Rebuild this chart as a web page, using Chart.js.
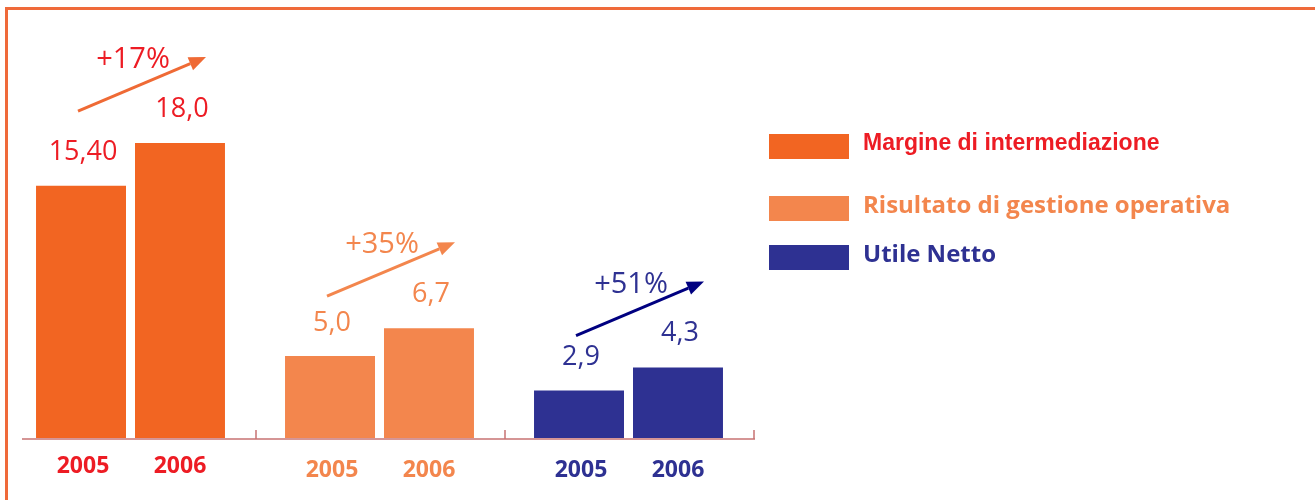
<!DOCTYPE html>
<html>
<head>
<meta charset="utf-8">
<script src="https://cdn.jsdelivr.net/npm/chart.js@4.4.1/dist/chart.umd.min.js"></script>
<style>
  body { margin: 0; background: #fff; }
  #wrap { position: relative; width: 1315px; height: 500px; overflow: hidden; }
  #frame { position: absolute; left: 5px; top: 7px; right: -10px; bottom: -10px;
           border-top: 3px solid #EF6A3A; border-left: 3px solid #EF6A3A; }
  canvas { position: absolute; left: 0; top: 0; }
</style>
</head>
<body>
<div id="wrap">
  <div id="frame"></div>
  <canvas id="chart-bars" width="1315" height="500"></canvas>
</div>
<script>
// data
var groups = ["Margine di intermediazione", "Risultato di gestione operativa", "Utile Netto"];
var years = ["2005", "2006"];
var values2005 = [15.40, 5.0, 2.9];
var values2006 = [18.0, 6.7, 4.3];
var valueLabels2005 = ["15,40", "5,0", "2,9"];
var valueLabels2006 = ["18,0", "6,7", "4,3"];
var growthLabels = ["+17%", "+35%", "+51%"];

var barColors = ["#F26522", "#F3864D", "#2E3192"];
var textColors = ["#ED1C24", "#F3864D", "#2E3192"];
var arrowColors = ["#EF6A35", "#F3864D", "#000080"];

var ctx = document.getElementById("chart-bars").getContext("2d");

function drawArrow(c, x1, y1, x2, y2, color) {
  var ang = Math.atan2(y2 - y1, x2 - x1);
  var head = 17, half = 7;
  var bx = x2 - head * Math.cos(ang), by = y2 - head * Math.sin(ang);
  c.strokeStyle = color;
  c.fillStyle = color;
  c.lineWidth = 3;
  c.beginPath();
  c.moveTo(x1, y1);
  c.lineTo(bx, by);
  c.stroke();
  c.beginPath();
  c.moveTo(x2, y2);
  c.lineTo(bx - half * Math.sin(ang), by + half * Math.cos(ang));
  c.lineTo(bx + half * Math.sin(ang), by - half * Math.cos(ang));
  c.closePath();
  c.fill();
}

var extras = {
  id: "extras",
  afterDatasetsDraw: function (chart) {
    var c = chart.ctx;
    var area = chart.chartArea;
    var xs = chart.scales.x;
    var step = (area.right - area.left) / groups.length;
    var m0 = chart.getDatasetMeta(0).data;
    var m1 = chart.getDatasetMeta(1).data;
    c.save();

    // axis line with small upward ticks between groups
    c.strokeStyle = "#C87373";
    c.lineWidth = 1.5;
    c.beginPath();
    c.moveTo(area.left + 16, area.bottom + 1);
    c.lineTo(area.right + 2, area.bottom + 1);
    for (var i = 0; i < groups.length; i++) {
      var tx = xs.getPixelForValue(i) + step / 2 + 1;
      c.moveTo(tx, area.bottom + 1);
      c.lineTo(tx, area.bottom - 8);
    }
    c.stroke();

    var yearOffset = [0, 4, 4];
    for (var g = 0; g < groups.length; g++) {
      var b0 = m0[g], b1 = m1[g];
      c.fillStyle = textColors[g];
      c.textAlign = "center";
      c.textBaseline = "middle";

      // values above bars
      c.font = '27px "Open Sans"';
      c.fillText(valueLabels2005[g], b0.x + 2, b0.y - 33);
      c.fillText(valueLabels2006[g], b1.x + 2, b1.y - 34);

      // years under bars
      c.font = 'bold 23px "Open Sans"';
      c.fillText(years[0], b0.x + 2, area.bottom + 28 + yearOffset[g]);
      c.fillText(years[1], b1.x, area.bottom + 28 + yearOffset[g]);

      // growth arrow + label
      var ex = b1.x + 26, ey = b1.y - 86;
      var sx = b0.x - 3, sy = ey + 54;
      drawArrow(c, sx, sy, ex, ey, arrowColors[g]);
      c.fillStyle = textColors[g];
      c.font = '29px "Open Sans"';
      c.fillText(growthLabels[g], (sx + ex) / 2 - 9, (sy + ey) / 2 - 24);
    }

    // legend
    var legendY = [134, 196, 245];
    var legendFonts = ['bold 23px "Liberation Sans Narrow", "Liberation Sans"',
                       'bold 24px "Open Sans"', 'bold 24px "Open Sans"'];
    c.textAlign = "left";
    for (var k = 0; k < groups.length; k++) {
      c.fillStyle = barColors[k];
      c.fillRect(769, legendY[k], 80, 25);
      c.fillStyle = textColors[k];
      c.font = legendFonts[k];
      c.fillText(groups[k], 863, legendY[k] + 10);
    }
    c.restore();
  }
};

new Chart(ctx, {
  type: "bar",
  data: {
    labels: groups,
    datasets: [
      {
        label: years[0],
        data: values2005,
        backgroundColor: barColors,
        borderWidth: 0,
        categoryPercentage: 0.795,
        barPercentage: 0.909,
      },
      {
        label: years[1],
        data: values2006,
        backgroundColor: barColors,
        borderWidth: 0,
        categoryPercentage: 0.795,
        barPercentage: 0.909,
      },
    ],
  },
  options: {
    responsive: false,
    animation: false,
    layout: { padding: { top: 12, bottom: 62, left: 6, right: 562 } },
    plugins: {
      legend: { display: false },
      tooltip: { enabled: false },
    },
    scales: {
      x: { display: false },
      y: { display: false, min: 0, max: 26 },
    },
  },
  plugins: [extras],
});
</script>
</body>
</html>
